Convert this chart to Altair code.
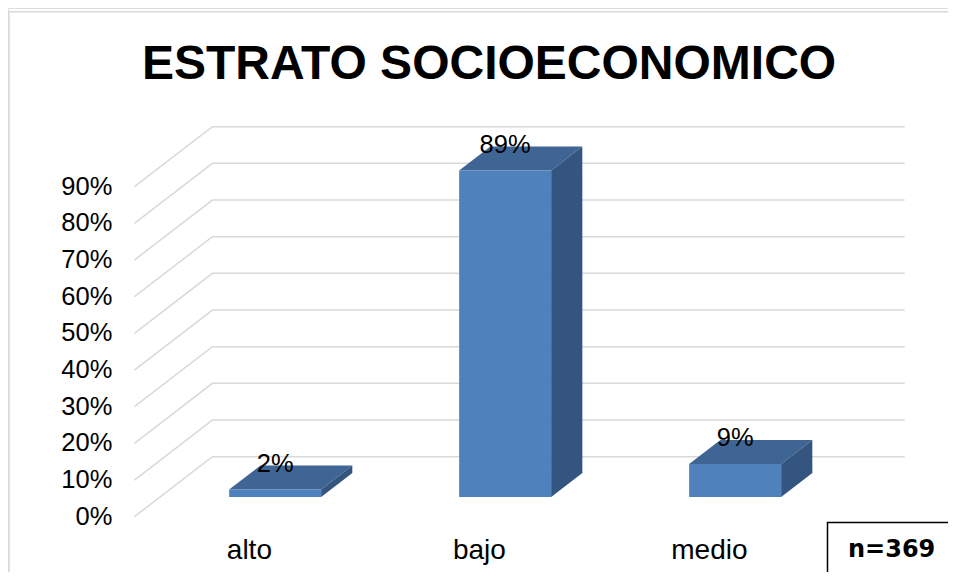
import altair as alt
import pandas as pd

# ---------------- data ----------------
categorias = ["alto", "bajo", "medio"]
porcentajes = [2, 89, 9]
etiquetas = ["2%", "89%", "9%"]
ticks_y = [0, 10, 20, 30, 40, 50, 60, 70, 80, 90]
ticks_lbl = ["0%", "10%", "20%", "30%", "40%", "50%", "60%", "70%", "80%", "90%"]
titulo = "ESTRATO SOCIOECONOMICO"
nota = "n=369"

# ---------------- geometry (oblique 3D projection) ----------------
W, H = 940, 564
PX0 = 249.4 - 8      # view x of category 0 on the front plane
STEP = 230.0         # px between categories
PY0 = 516.7 - 8      # view y of 0% on the front plane
PPU = 3.6667         # px per percent
x_domain = [(0 - PX0) / STEP, (W - PX0) / STEP]
y_domain = [(PY0 - H) / PPU, PY0 / PPU]
DX = 78 / STEP       # full depth offset in category units
DY = 60 / PPU        # full depth offset in percent units
D_FRONT, D_BACK = 0.33, 0.73
HALF = 0.2

xs = alt.Scale(domain=x_domain, nice=False, zero=False)
ys = alt.Scale(domain=y_domain, nice=False, zero=False)

FONT = "Liberation Sans"

# gridlines (left wall + back wall)
g_rows = []
for t in ticks_y:
    g_rows.append({"t": t, "k": 0, "x": -0.5, "y": t})
    g_rows.append({"t": t, "k": 1, "x": -0.5 + DX, "y": t + DY})
    g_rows.append({"t": t, "k": 2, "x": 2.51 + DX, "y": t + DY})
grid_df = pd.DataFrame(g_rows)

front_rows, top_rows, side_rows, lab_rows = [], [], [], []
for i, (c, v, lab) in enumerate(zip(categorias, porcentajes, etiquetas)):
    front_rows.append({"cat": c, "x1": i - HALF + D_FRONT * DX, "x2": i + HALF + D_FRONT * DX,
                       "y1": D_FRONT * DY, "y2": v + D_FRONT * DY})
    for d in (D_FRONT, D_BACK):
        top_rows.append({"cat": c, "y": v + d * DY, "x1": i - HALF + d * DX, "x2": i + HALF + d * DX})
        side_rows.append({"cat": c, "x": i + HALF + d * DX, "y1": d * DY, "y2": v + d * DY})
    lab_rows.append({"cat": c, "lab": lab, "x": i + D_FRONT * DX, "y": v + D_FRONT * DY, "xc": i})
front_df = pd.DataFrame(front_rows)
top_df = pd.DataFrame(top_rows)
side_df = pd.DataFrame(side_rows)
lab_df = pd.DataFrame(lab_rows)
ytick_df = pd.DataFrame({"t": ticks_y, "lbl": ticks_lbl, "x": [-0.5] * len(ticks_y)})

# ---------------- layers ----------------
border = alt.Chart(pd.DataFrame({"a": [1]})).mark_rect(
    fill="white", stroke="#d9d9d9", strokeWidth=1.5
).encode(x=alt.value(1), y=alt.value(3.7), x2=alt.value(1000), y2=alt.value(700))

grid = alt.Chart(grid_df).mark_line(color="#d9d9d9", strokeWidth=1.5).encode(
    x=alt.X("x:Q", scale=xs, axis=None),
    y=alt.Y("y:Q", scale=ys, axis=None),
    detail="t:N",
    order="k:Q",
)

top = alt.Chart(top_df).mark_area(orient="horizontal", color="#3e6594").encode(
    y=alt.Y("y:Q", scale=ys, axis=None),
    x=alt.X("x1:Q", scale=xs, axis=None),
    x2="x2:Q",
    detail="cat:N",
)

side = alt.Chart(side_df).mark_area(orient="vertical", color="#33557f").encode(
    x=alt.X("x:Q", scale=xs, axis=None),
    y=alt.Y("y1:Q", scale=ys, axis=None),
    y2="y2:Q",
    detail="cat:N",
)

front = alt.Chart(front_df).mark_rect(color="#4f81bd").encode(
    x=alt.X("x1:Q", scale=xs, axis=None),
    x2="x2:Q",
    y=alt.Y("y1:Q", scale=ys, axis=None),
    y2="y2:Q",
)

data_labels = alt.Chart(lab_df).mark_text(
    font=FONT, fontSize=25.5, color="black", baseline="middle", align="center", dy=-26
).encode(
    x=alt.X("x:Q", scale=xs, axis=None),
    y=alt.Y("y:Q", scale=ys, axis=None),
    text="lab:N",
)

cat_labels = alt.Chart(lab_df).mark_text(
    font=FONT, fontSize=28, color="black", baseline="alphabetic", align="center"
).encode(
    x=alt.X("xc:Q", scale=xs, axis=None),
    y=alt.value(PY0 + 11.5 * PPU),
    text="cat:N",
)

y_labels = alt.Chart(ytick_df).mark_text(
    font=FONT, fontSize=25.5, color="black", baseline="middle", align="right", dx=-22
).encode(
    x=alt.X("x:Q", scale=xs, axis=None),
    y=alt.Y("t:Q", scale=ys, axis=None),
    text="lbl:N",
)

title = alt.Chart(pd.DataFrame({"t": [titulo]})).mark_text(
    font=FONT, fontSize=48, fontWeight="bold", color="black", align="center", baseline="alphabetic"
).encode(x=alt.value(481), y=alt.value(71), text="t:N")

nbox = alt.Chart(pd.DataFrame({"a": [1]})).mark_rect(
    fill="white", stroke="black", strokeWidth=1.5
).encode(x=alt.value(819.5), y=alt.value(514.5), x2=alt.value(1000), y2=alt.value(700))

ntext = alt.Chart(pd.DataFrame({"t": [nota]})).mark_text(
    font="DejaVu Sans", fontSize=24, fontWeight="bold", color="black", align="left", baseline="alphabetic"
).encode(x=alt.value(840), y=alt.value(549), text="t:N")

chart = alt.layer(
    border, grid, top, side, front, data_labels, cat_labels, y_labels, title, nbox, ntext
).properties(
    width=W, height=H, padding=0, autosize=alt.AutoSizeParams(type="none")
).configure_view(stroke=None).configure(background="white")

chart.save("out.html", embed_options={"renderer": "svg", "actions": False})
